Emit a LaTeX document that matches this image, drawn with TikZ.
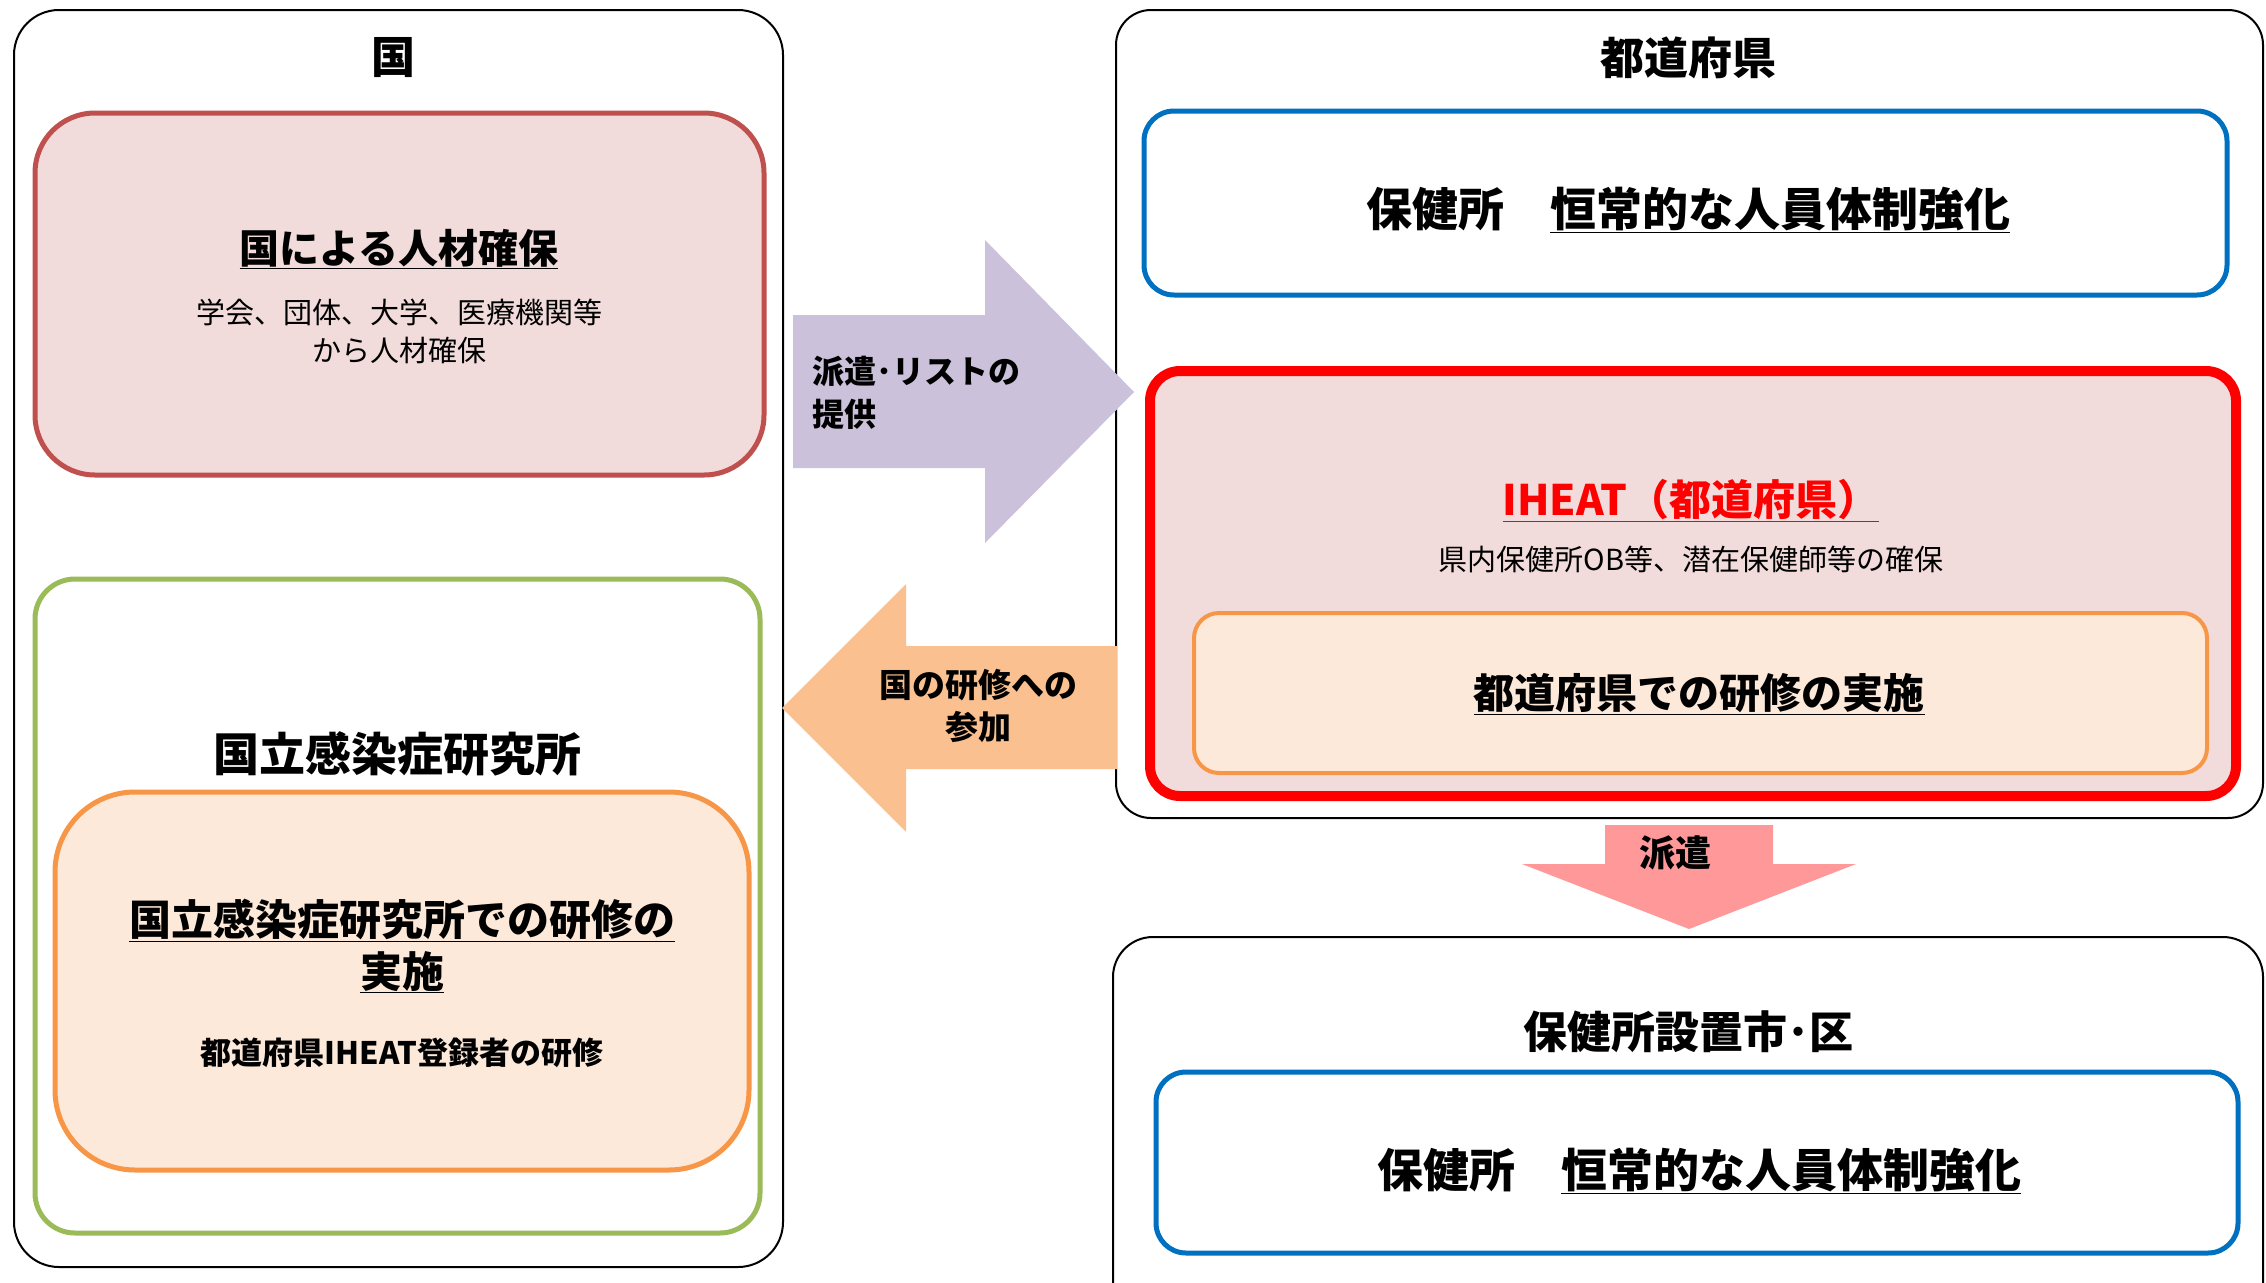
\documentclass[tikz,border=0pt]{standalone}
\usepackage{fontspec}
\newfontfamily\jp{Noto Sans CJK JP}
\definecolor{pinkfill}{HTML}{F2DCDB}
\definecolor{redline}{HTML}{C0504D}
\definecolor{greenline}{HTML}{9BBB59}
\definecolor{orgfill}{HTML}{FDE9D9}
\definecolor{orgline}{HTML}{F79646}
\definecolor{purplearrow}{HTML}{CCC1DA}
\definecolor{orgarrow}{HTML}{FAC090}
\definecolor{blueline}{HTML}{0070C0}
\definecolor{brightred}{HTML}{FF0000}
\definecolor{pinkarrow}{HTML}{FF9999}
\begin{document}
\begin{tikzpicture}[x=1pt,y=-1pt,
  frame/.style={draw=black, line width=2pt, rectangle, inner sep=0pt},
  panel/.style={rectangle, inner sep=0pt},
  txt/.style={inner sep=0pt, align=center, font=\jp},
  btxt/.style={inner sep=0pt, align=center, font=\jp\bfseries}]
\useasboundingbox (0,0) rectangle (2266,1282);
\fill[white] (0,0) rectangle (2266,1282);

% outer frames
\node[frame, rounded corners=45pt, minimum width=769pt, minimum height=1257pt] (kuni) at (398.5,638.5) {};
\node[frame, rounded corners=35pt, minimum width=1147pt, minimum height=808pt] (pref) at (1689.5,414) {};
\node[frame, rounded corners=40pt, minimum width=1150pt, minimum height=400pt] (city) at (1688,1137) {};

% left panels
\node[panel, draw=redline, fill=pinkfill, line width=5pt, rounded corners=60pt, minimum width=729pt, minimum height=362pt] (jinzai) at (399.5,294) {};
\node[panel, draw=greenline, line width=5pt, rounded corners=40pt, minimum width=725pt, minimum height=654pt] (niid) at (397.5,906) {};
\node[panel, draw=orgline, fill=orgfill, line width=5pt, rounded corners=80pt, minimum width=694pt, minimum height=378pt] (niidtr) at (402,981) {};

% right panels
\node[panel, draw=blueline, line width=5pt, rounded corners=30pt, minimum width=1083pt, minimum height=184pt] (hc1) at (1685.5,203) {};
\node[panel, draw=brightred, fill=pinkfill, line width=10pt, rounded corners=30pt, minimum width=1086pt, minimum height=425pt] (iheat) at (1693,583.5) {};
\node[panel, draw=orgline, fill=orgfill, line width=4pt, rounded corners=25pt, minimum width=1013pt, minimum height=160pt] (preftr) at (1700.5,693) {};
\node[panel, draw=blueline, line width=5pt, rounded corners=30pt, minimum width=1082pt, minimum height=181pt] (hc2) at (1697,1162.5) {};

% block arrows
\fill[purplearrow] (793,315) -- (985,315) -- (985,240) -- (1134,392) -- (985,543) -- (985,468) -- (793,468) -- cycle;
\fill[orgarrow] (1117,646) -- (906,646) -- (906,584) -- (782,708) -- (906,832) -- (906,769) -- (1117,769) -- cycle;
\fill[pinkarrow] (1605,825) -- (1773,825) -- (1773,864) -- (1856,864) -- (1689,929) -- (1522,864) -- (1605,864) -- cycle;

% texts
\node[btxt, font=\jp\bfseries\fontsize{44}{52}\selectfont] (t1) at (393,58) {国};
\node[btxt, font=\jp\bfseries\fontsize{40}{48}\selectfont] (t2) at (399,249) {\underline{国による人材確保}};
\node[txt, font=\jp\fontsize{29}{38}\selectfont] (t3) at (399,331) {学会、団体、大学、医療機関等\\から人材確保};
\node[btxt, font=\jp\bfseries\fontsize{46}{52}\selectfont] (t4) at (397,754) {国立感染症研究所};
\node[btxt, font=\jp\bfseries\fontsize{42}{52}\selectfont] (t5) at (402,946) {\underline{国立感染症研究所での研修の}\\\underline{実施}};
\node[btxt, font=\jp\bfseries\fontsize{31}{36}\selectfont] (t6) at (402,1053) {都道府県IHEAT登録者の研修};

\node[btxt, align=left, anchor=west, font=\jp\bfseries\fontsize{32}{43}\selectfont] (t7) at (812,393) {派遣･リストの\\提供};
\node[btxt, font=\jp\bfseries\fontsize{33}{42}\selectfont] (t8) at (978,706) {国の研修への\\参加};

\node[btxt, font=\jp\bfseries\fontsize{44}{52}\selectfont] (t9) at (1688,58) {都道府県};
\node[btxt, font=\jp\bfseries\fontsize{46}{52}\selectfont] (t10) at (1688,210) {保健所\hspace{1em}\underline{恒常的な人員体制強化}};
\node[btxt, text=brightred, font=\jp\bfseries\fontsize{42}{48}\selectfont] (t11) at (1691,501) {\underline{IHEAT（都道府県）}};
\node[txt, font=\jp\fontsize{29}{36}\selectfont] (t12) at (1691,559) {県内保健所OB等、潜在保健師等の確保};
\node[btxt, font=\jp\bfseries\fontsize{41}{48}\selectfont] (t13) at (1699,694) {\underline{都道府県での研修の実施}};
\node[btxt, font=\jp\bfseries\fontsize{36}{44}\selectfont] (t14) at (1675,853) {派遣};
\node[btxt, font=\jp\bfseries\fontsize{44}{52}\selectfont] (t15) at (1688,1032) {保健所設置市･区};
\node[btxt, font=\jp\bfseries\fontsize{46}{52}\selectfont] (t16) at (1699,1171) {保健所\hspace{1em}\underline{恒常的な人員体制強化}};
\end{tikzpicture}
\end{document}
